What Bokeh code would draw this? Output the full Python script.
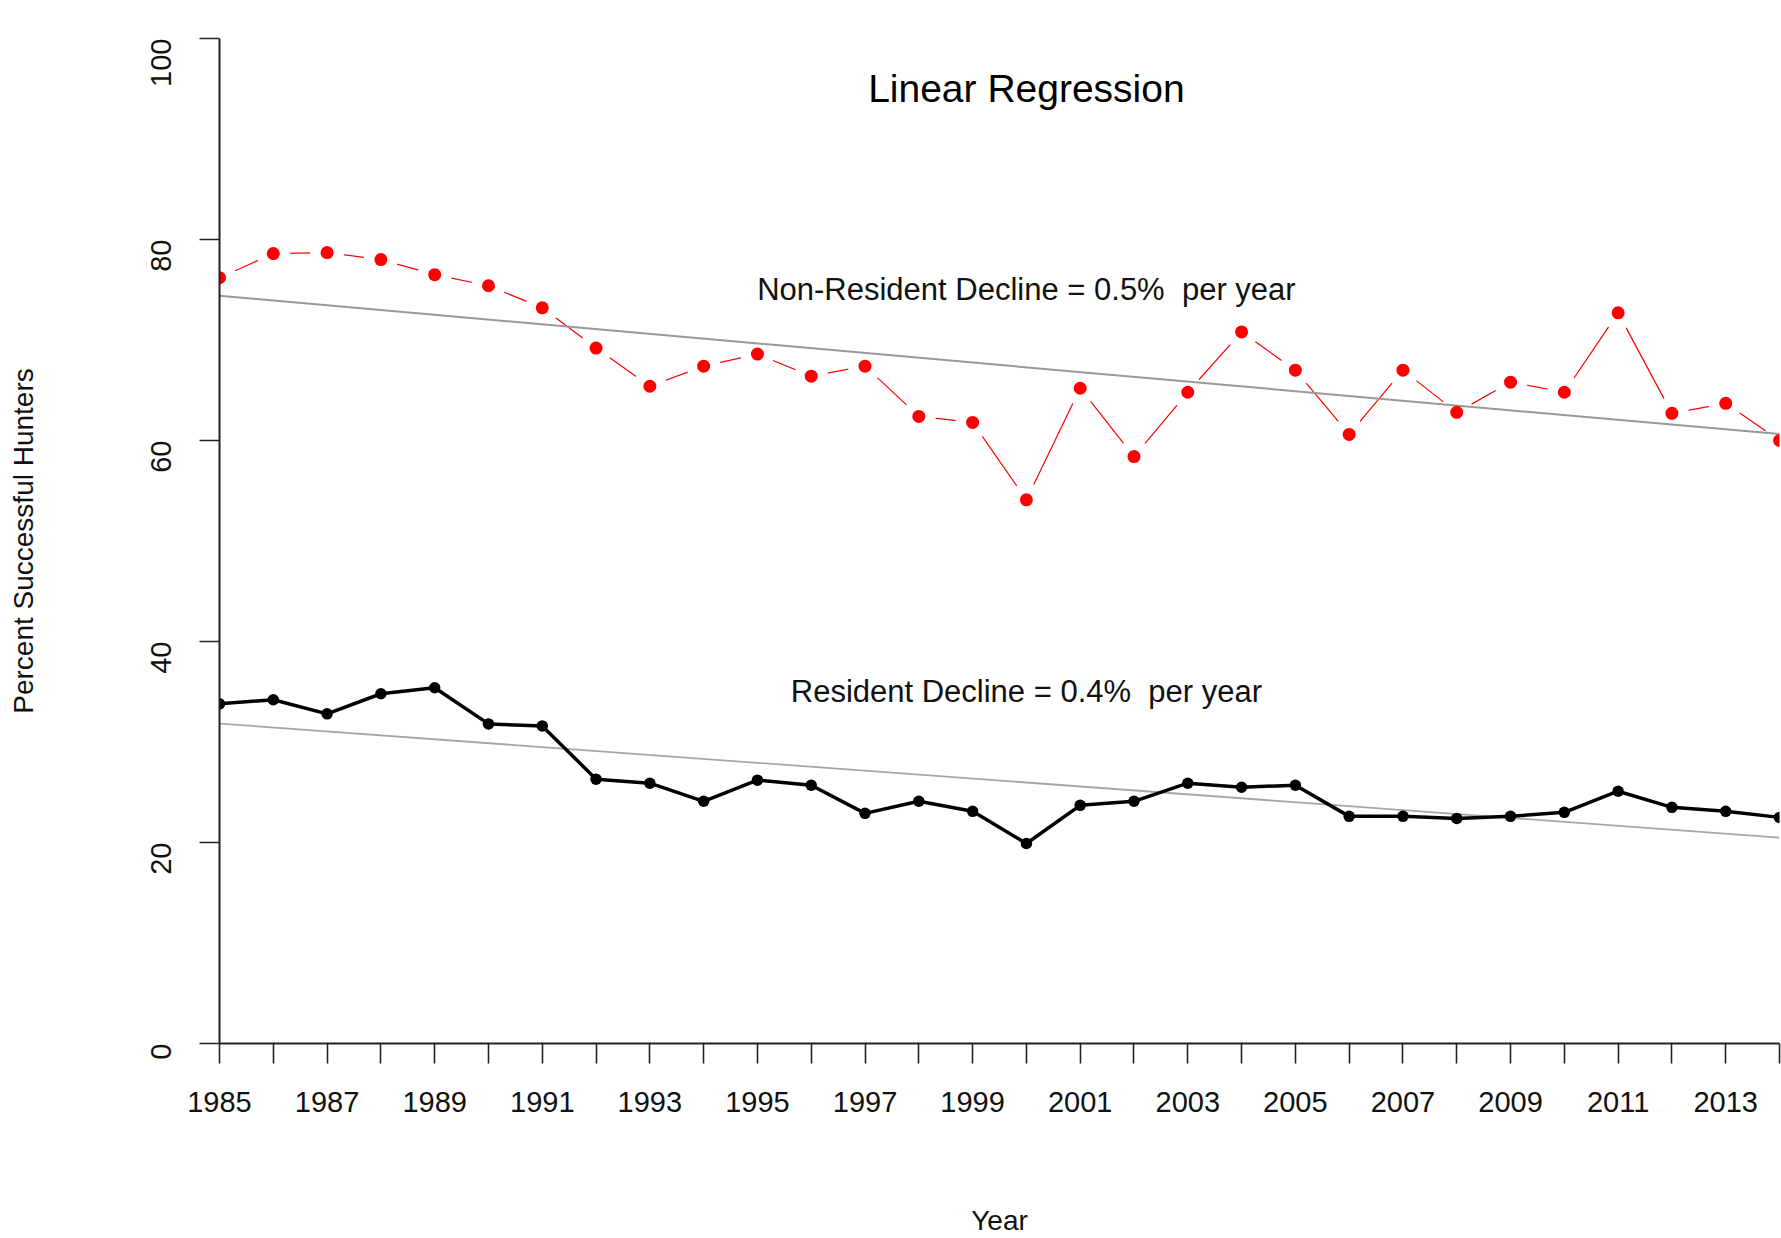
import math
import numpy as np
from bokeh.plotting import figure
from bokeh.models import Range1d, FixedTicker, Label, ColumnDataSource
from bokeh.embed import file_html
from bokeh.resources import INLINE

# ---------------- data ----------------
years = list(range(1985, 2015))
non_resident = [76.2, 78.6, 78.7, 78.0, 76.5, 75.4, 73.2, 69.2, 65.4, 67.4,
                68.6, 66.4, 67.4, 62.4, 61.8, 54.1, 65.2, 58.4, 64.8, 70.8,
                67.0, 60.6, 67.0, 62.8, 65.8, 64.8, 72.7, 62.7, 63.7, 60.0]
resident = [33.8, 34.2, 32.8, 34.8, 35.4, 31.8, 31.6, 26.3, 25.9, 24.1,
            26.2, 25.7, 22.9, 24.1, 23.1, 19.9, 23.7, 24.1, 25.9, 25.5,
            25.7, 22.6, 22.6, 22.4, 22.6, 23.0, 25.1, 23.5, 23.1, 22.5]
y_ticks = [0, 20, 40, 60, 80, 100]
x_label_years = list(range(1985, 2014, 2))

title_text = "Linear Regression"
nr_text = "Non-Resident Decline = 0.5%\u00a0 per year"
r_text = "Resident Decline = 0.4%\u00a0 per year"

FONT = "Liberation Sans"

# regression fits from data
nr_fit = np.polyfit(years, non_resident, 1)
r_fit = np.polyfit(years, resident, 1)
fit_x = [years[0], years[-1]]
nr_fit_y = list(np.polyval(nr_fit, fit_x))
r_fit_y = list(np.polyval(r_fit, fit_x))

p = figure(width=1781, height=1238, output_backend="svg", toolbar_location=None,
           x_range=Range1d(years[0], years[-1]), y_range=Range1d(y_ticks[0], y_ticks[-1]),
           min_border_left=219, min_border_right=2, min_border_top=38, min_border_bottom=194)
p.outline_line_color = None
p.xgrid.visible = False
p.ygrid.visible = False
p.background_fill_color = "white"
p.border_fill_color = "white"

src = ColumnDataSource(dict(x=years, nr=non_resident, r=resident))

# non-resident: line with gaps around points (type="b")
p.line("x", "nr", source=src, line_color="#ff0000", line_width=1.2)
p.scatter("x", "nr", source=src, size=34, fill_color="white", line_color=None)

# regression lines
p.line(fit_x, nr_fit_y, line_color="#999999", line_width=2)
p.line(fit_x, r_fit_y, line_color="#a6a6a6", line_width=1.8)

p.scatter("x", "nr", source=src, size=13, fill_color="#ff0000", line_color=None)

# resident: thick line with points
p.line("x", "r", source=src, line_color="black", line_width=3.5)
p.scatter("x", "r", source=src, size=11.5, fill_color="black", line_color=None)

# texts
p.add_layout(Label(x=2000, y=95, text=title_text, text_align="center", text_baseline="middle",
                   text_font=FONT, text_font_size="39px", text_color="black"))
p.add_layout(Label(x=2000, y=75, text=nr_text, text_align="center", text_baseline="middle",
                   text_font=FONT, text_font_size="31px", text_color="#111111"))
p.add_layout(Label(x=2000, y=35, text=r_text, text_align="center", text_baseline="middle",
                   text_font=FONT, text_font_size="31px", text_color="#111111"))

# axes
for ax in (p.xaxis, p.yaxis):
    ax.axis_line_color = "#222222"
    ax.axis_line_width = 2
    ax.major_tick_line_color = "#222222"
    ax.major_tick_line_width = 1.6
    ax.major_tick_out = 20
    ax.major_tick_in = 0
    ax.minor_tick_line_color = None
    ax.major_label_text_font = FONT
    ax.major_label_text_font_size = "29px"
    ax.major_label_text_color = "#111111"
    ax.axis_label_text_font = FONT
    ax.axis_label_text_font_size = "28px"
    ax.axis_label_text_font_style = "normal"
    ax.axis_label_text_color = "#111111"

p.xaxis.ticker = FixedTicker(ticks=years)
p.xaxis.major_label_overrides = {y: (str(y) if y in x_label_years else "") for y in years}
p.xaxis.major_label_standoff = 28
p.xaxis.axis_label = "Year"
p.xaxis.axis_label_standoff = 90

p.yaxis.ticker = FixedTicker(ticks=y_ticks)
p.yaxis.major_label_orientation = math.pi / 2
p.yaxis.major_label_standoff = 39
p.yaxis.axis_label = "Percent Successful Hunters"
p.yaxis.axis_label_standoff = 99

open("out.html", "w").write(file_html(p, INLINE))
